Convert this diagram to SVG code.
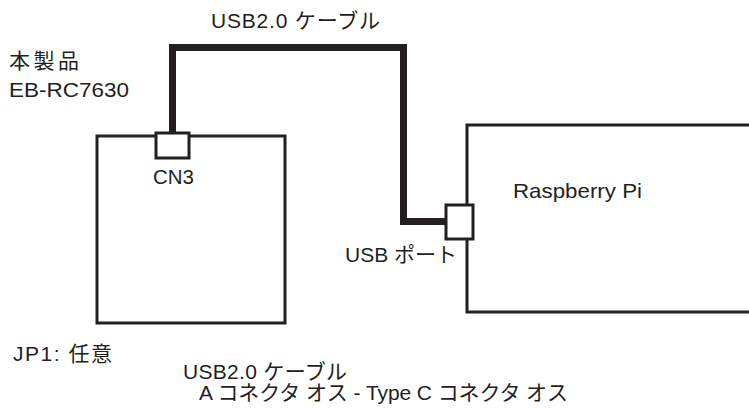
<svg xmlns="http://www.w3.org/2000/svg" width="749" height="408" viewBox="0 0 749 408">
<style>
.box{fill:#fff;stroke:#231f20;stroke-width:3}
.t{font-family:"Liberation Sans","Noto Sans CJK JP",sans-serif;font-size:21px;fill:#231f20}
.cable{fill:none;stroke:#231f20;stroke-width:7;stroke-linejoin:miter;stroke-linecap:butt}
</style>
<rect width="749" height="408" fill="#fff"/>
<g id="connectors">
<path class="cable" d="M172.5,133 V47.5 H403.5 V221.5 H446"/>
</g>
<g id="board">
<rect class="box" x="97" y="136" width="188" height="187"/>
<text class="t" x="9" y="68" textLength="70" lengthAdjust="spacing">本製品</text>
<text class="t" x="9" y="97" textLength="120" lengthAdjust="spacingAndGlyphs">EB-RC7630</text>
<text class="t" x="13" y="361" textLength="99" lengthAdjust="spacing">JP1: 任意</text>
</g>
<g id="cn3">
<rect class="box" x="156" y="133" width="33" height="25"/>
<text class="t" x="153" y="184" textLength="41" lengthAdjust="spacingAndGlyphs">CN3</text>
</g>
<g id="raspberrypi">
<rect class="box" x="467" y="125" width="290" height="187"/>
<text class="t" x="513" y="198" textLength="129" lengthAdjust="spacingAndGlyphs">Raspberry Pi</text>
</g>
<g id="usbport">
<rect class="box" x="446" y="205" width="27" height="34"/>
<text class="t" x="345" y="262" textLength="112" lengthAdjust="spacing">USB ポート</text>
</g>
<g id="labels">
<text class="t" x="211" y="28" textLength="169" lengthAdjust="spacing">USB2.0 ケーブル</text>
<text class="t" x="183" y="379" textLength="164" lengthAdjust="spacing">USB2.0 ケーブル</text>
<text class="t" x="199" y="400" textLength="369" lengthAdjust="spacing">A コネクタ オス - Type C コネクタ オス</text>
</g>
</svg>
